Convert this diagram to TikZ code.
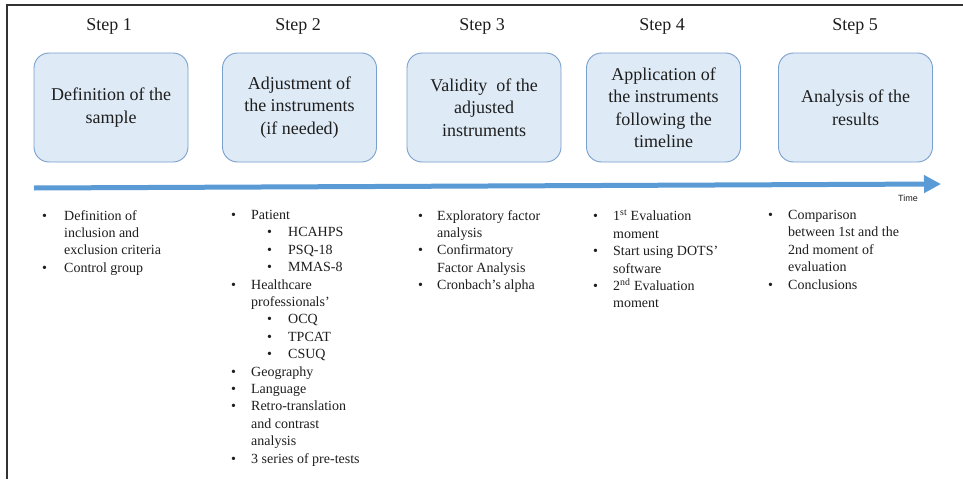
\documentclass[tikz,border=0pt]{standalone}
\usepackage{fontspec}
\setmainfont{Liberation Serif}
\newfontfamily\timefont{Liberation Sans}
\usetikzlibrary{arrows.meta}
\definecolor{boxfill}{RGB}{222,234,246}
\definecolor{boxline}{RGB}{122,160,205}
\definecolor{arrowblue}{RGB}{91,155,213}
\definecolor{txt}{RGB}{30,30,30}
\definecolor{frame}{RGB}{50,50,50}
\newcommand{\bu}[1][20pt]{\makebox[#1][l]{\textbullet}}
\newcommand{\ct}[1][20pt]{\hspace*{#1}}
\newcommand{\sbu}{\hspace*{36pt}\makebox[21pt][l]{\textbullet}}
\begin{document}
\begin{tikzpicture}[x=1pt,y=-1pt,
  stepbox/.style={draw=boxline, line width=0.9pt, fill=boxfill, rounded corners=15pt,
    minimum width=154pt, minimum height=109pt, inner sep=0pt, align=center,
    font=\fontsize{18}{22.5}\selectfont, text=txt},
  steplabel/.style={font=\fontsize{18}{22}\selectfont, text=txt},
  blist/.style={anchor=north west, inner sep=0pt, align=left,
    font=\fontsize{14}{17.4}\selectfont, text=txt}]
\useasboundingbox (0,0) rectangle (963,479);
\fill[white] (0,0) rectangle (963,479);
% frame
\coordinate (fr1) at (963,5);
\coordinate (fr2) at (7,5);
\coordinate (fr3) at (7,479);
\draw[frame, line width=1.5pt] (fr1) -- (fr2) -- (fr3);
% step labels
\node[steplabel] (l1) at (109,26) {Step 1};
\node[steplabel] (l2) at (298,26) {Step 2};
\node[steplabel] (l3) at (482,26) {Step 3};
\node[steplabel] (l4) at (662,26) {Step 4};
\node[steplabel] (l5) at (855,26) {Step 5};
% boxes
\node[stepbox] (b1) at (111,107.5) {Definition of the\\sample};
\node[stepbox] (b2) at (299.5,107.5) {Adjustment of\\the instruments\\(if needed)};
\node[stepbox] (b3) at (484,107.5) {Validity\ \ of the\\adjusted\\instruments};
\node[stepbox] (b4) at (663.5,107.5) {Application of\\the instruments\\following\ the\\timeline};
\node[stepbox] (b5) at (855.5,107.5) {Analysis of the\\results};
% timeline arrow
\coordinate (ts) at (34,188);
\coordinate (te) at (941,184);
\draw[arrowblue, line width=5pt, -{Triangle[length=17pt,width=17pt]}] (ts) -- (te);
\node[font=\timefont\fontsize{9}{10}\selectfont, text=txt] (time) at (908,198) {Time};
% bullet lists
\node[blist] (c1) at (42,210) {\bu[22pt]Definition\ of\\ \ct[22pt]inclusion and\\ \ct[22pt]exclusion criteria\\ \bu[22pt]Control group};
\node[blist] (c2) at (231,210) {\bu Patient\\ \sbu HCAHPS\\ \sbu PSQ-18\\ \sbu MMAS-8\\ \bu Healthcare\\ \ct professionals'\\ \sbu OCQ\\ \sbu TPCAT\\ \sbu CSUQ\\ \bu Geography\\ \bu Language\\ \bu Retro-translation\\ \ct and contrast\\ \ct analysis\\ \bu 3 series of pre-tests};
\node[blist] (c3) at (418,210) {\bu[19pt]Exploratory factor\\ \ct[19pt]analysis\\ \bu[19pt]Confirmatory\\ \ct[19pt]Factor Analysis\\ \bu[19pt]Cronbach's alpha};
\node[blist] (c4) at (593,210) {\bu[20pt]1\textsuperscript{st} Evaluation\\ \ct[20pt]moment\\ \bu[20pt]Start using DOTS’\\ \ct[20pt]software\\ \bu[20pt]2\textsuperscript{nd} Evaluation\\ \ct[20pt]moment};
\node[blist] (c5) at (768,210) {\bu[20pt]Comparison\\ \ct[20pt]between 1st and the\\ \ct[20pt]2nd moment of\\ \ct[20pt]evaluation\\ \bu[20pt]Conclusions};
\end{tikzpicture}
\end{document}
